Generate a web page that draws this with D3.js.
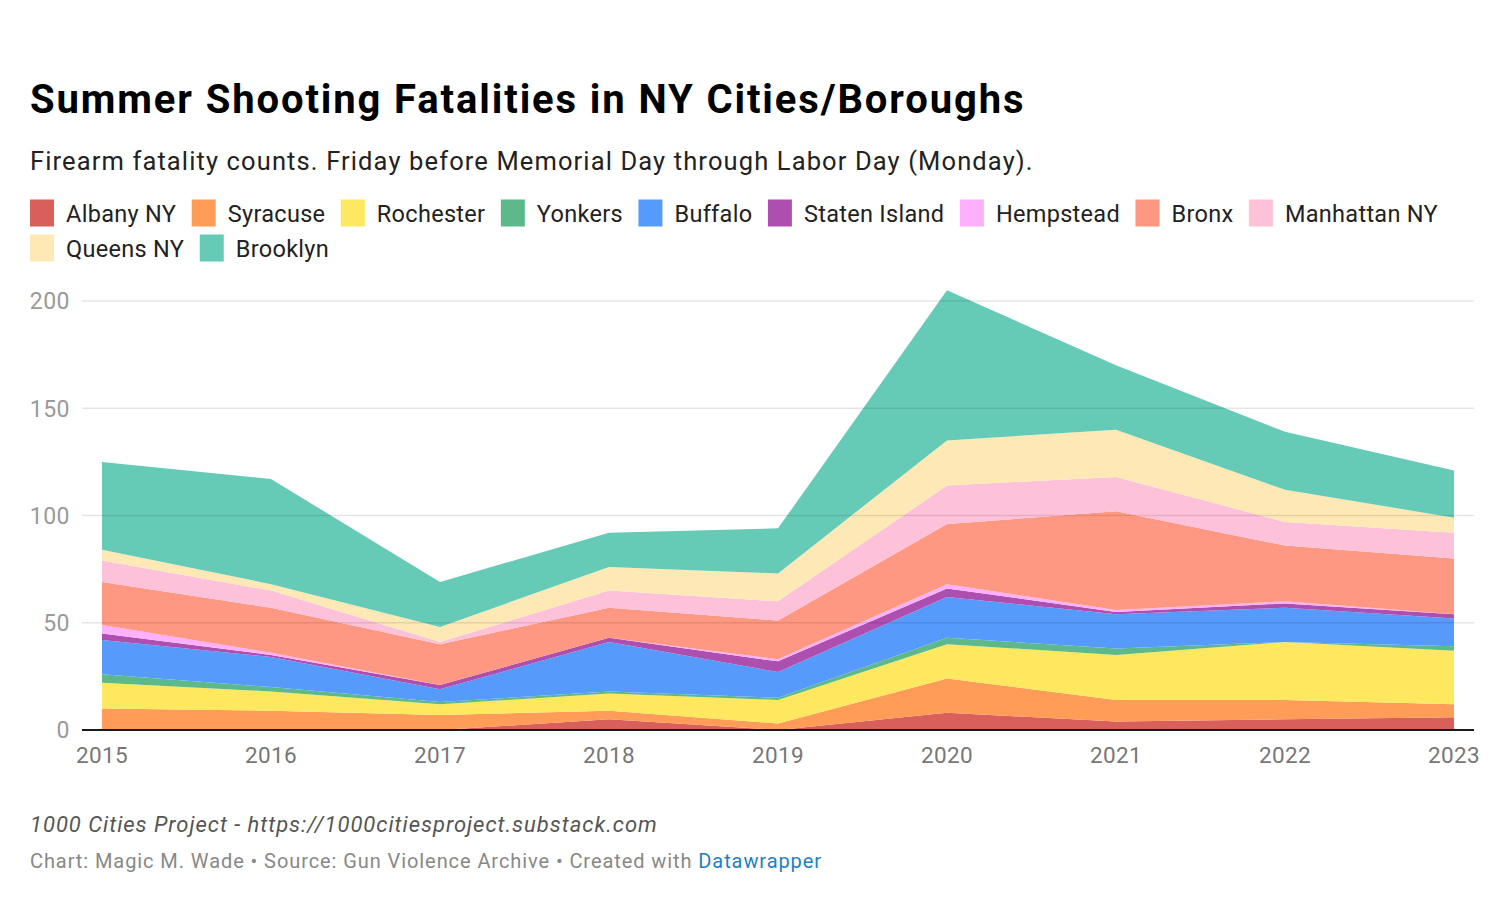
<!DOCTYPE html>
<html>
<head>
<meta charset="utf-8">
<script src="https://cdn.jsdelivr.net/npm/d3@7"></script>
<style>
  body { margin: 0; background: #fff; }
  svg { font-family: Roboto, sans-serif; display: block; }
</style>
</head>
<body>
<svg width="1492" height="922"></svg>
<script>
// Data (fatalities per summer)
const years = [2015, 2016, 2017, 2018, 2019, 2020, 2021, 2022, 2023]
const cities = ['Albany NY', 'Syracuse', 'Rochester', 'Yonkers', 'Buffalo', 'Staten Island',
  'Hempstead', 'Bronx', 'Manhattan NY', 'Queens NY', 'Brooklyn']
const albany = [0, 0, 0, 5, 0, 8, 4, 5, 6]
const syracuse = [10, 9, 7, 4, 3, 16, 10, 9, 6]
const rochester = [12, 9, 5, 8, 11, 16, 21, 27, 25]
const yonkers = [4, 2, 1, 1, 1, 3, 3, 0, 2]
const buffalo = [16, 14, 6, 23, 12, 19, 16, 16, 13]
const statenIsland = [3, 1, 2, 2, 5, 4, 1, 2, 2]
const hempstead = [4, 1, 0, 0, 1, 2, 1, 1, 0]
const bronx = [20, 21, 19, 14, 18, 28, 46, 26, 26]
const manhattan = [10, 8, 1, 8, 9, 18, 16, 11, 12]
const queens = [5, 3, 7, 11, 13, 21, 22, 15, 7]
const brooklyn = [41, 49, 21, 16, 21, 70, 30, 27, 22]
const yTicks = [0, 50, 100, 150, 200]
const colors = ['#d95f5b', '#ff9c57', '#fee860', '#5db98a', '#569bfc', '#ad4faf',
  '#fdb1fd', '#ff9882', '#fdc1da', '#fee9b6', '#66cbb6']

const seriesValues = [albany, syracuse, rochester, yonkers, buffalo, statenIsland,
  hempstead, bronx, manhattan, queens, brooklyn]

// one row per year for d3.stack
const table = years.map((year, i) => {
  const row = { year }
  cities.forEach((c, j) => { row[c] = seriesValues[j][i] })
  return row
})

const svg = d3.select('svg')
const x = d3.scaleLinear().domain([2015, 2023]).range([102, 1454])
const y = d3.scaleLinear().domain([0, 200]).range([730, 301])
const color = d3.scaleOrdinal().domain(cities).range(colors)

// Header
svg.append('text')
  .attr('x', 30).attr('y', 113)
  .attr('font-size', 40).attr('font-weight', 700).attr('fill', '#000')
  .attr('letter-spacing', '0.047em')
  .text('Summer Shooting Fatalities in NY Cities/Boroughs')
svg.append('text')
  .attr('x', 30).attr('y', 170)
  .attr('font-size', 25.5).attr('fill', '#222')
  .attr('letter-spacing', '0.044em')
  .text('Firearm fatality counts. Friday before Memorial Day through Labor Day (Monday).')

// Legend, wraps like the original
const legend = svg.append('g')
let lx = 30, ly = 213
cities.forEach(c => {
  const item = legend.append('g')
  const label = item.append('text')
    .attr('x', 36).attr('y', 8.5)
    .attr('font-size', 23.5).attr('fill', '#222')
    .attr('letter-spacing', 0.3)
    .text(c)
  const w = 36 + label.node().getComputedTextLength()
  if (lx + w > 1462) { lx = 30; ly += 35 }
  item.attr('transform', `translate(${lx},${ly})`)
  item.insert('rect', 'text')
    .attr('x', 0).attr('y', -13.5).attr('width', 24).attr('height', 27)
    .attr('fill', color(c))
  lx += w + 15.5
})

// Stacked areas
const stack = d3.stack().keys(cities)
const layers = stack(table)
const area = d3.area()
  .x(d => x(d.data.year))
  .y0(d => y(d[0]))
  .y1(d => y(d[1]))

svg.append('g')
  .selectAll('path')
  .data(layers)
  .join('path')
  .attr('d', area)
  .attr('fill', d => color(d.key))

// Grid lines on top (faint, so they show through the areas)
svg.append('g')
  .selectAll('line')
  .data(yTicks.filter(t => t > 0))
  .join('line')
  .attr('x1', 82).attr('x2', 1474)
  .attr('y1', d => y(d)).attr('y2', d => y(d))
  .attr('stroke', 'rgba(0,0,0,0.1)')
  .attr('stroke-width', 1.5)

svg.append('line')
  .attr('x1', 82).attr('x2', 1474)
  .attr('y1', y(0)).attr('y2', y(0))
  .attr('stroke', '#1a1a1a').attr('stroke-width', 2)

// Y axis labels
svg.append('g')
  .selectAll('text')
  .data(yTicks)
  .join('text')
  .attr('x', 70).attr('y', d => y(d))
  .attr('dy', '0.36em')
  .attr('text-anchor', 'end')
  .attr('font-size', 23).attr('fill', '#9a9a9a')
  .attr('letter-spacing', 0.5)
  .text(d => d)

// X axis labels
svg.append('g')
  .selectAll('text')
  .data(years)
  .join('text')
  .attr('x', d => x(d)).attr('y', 763)
  .attr('text-anchor', 'middle')
  .attr('font-size', 22.5).attr('fill', '#777')
  .attr('letter-spacing', 0.4)
  .text(d => d)

// Footer
svg.append('text')
  .attr('x', 30).attr('y', 832)
  .attr('font-size', 22).attr('font-style', 'italic').attr('fill', '#555')
  .attr('letter-spacing', '0.044em')
  .text('1000 Cities Project - https://1000citiesproject.substack.com')

const credit = svg.append('text')
  .attr('x', 30).attr('y', 868)
  .attr('font-size', 20).attr('fill', '#888')
  .attr('letter-spacing', '0.046em')
credit.append('tspan').text('Chart: Magic M. Wade • Source: Gun Violence Archive • Created with ')
credit.append('tspan').attr('fill', '#1d81c4').text('Datawrapper')
</script>
</body>
</html>
